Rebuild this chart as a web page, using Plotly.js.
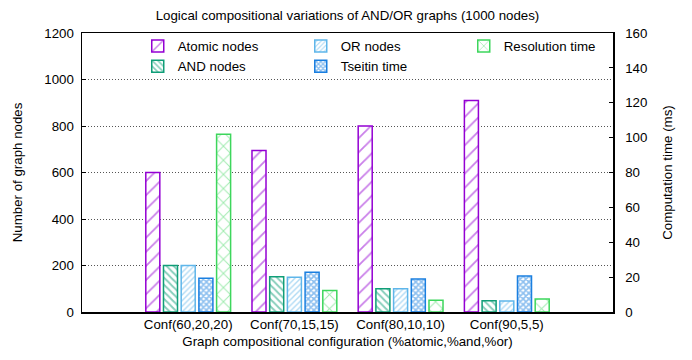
<!DOCTYPE html>
<html>
<head>
<meta charset="utf-8">
<script src="https://cdn.plot.ly/plotly-3.0.1.min.js"></script>
<style>html,body{margin:0;padding:0;background:#fff}#chart{width:692px;height:360px}</style>
</head>
<body>
<div id="chart"></div>
<script>
const categories = ["Conf(60,20,20)", "Conf(70,15,15)", "Conf(80,10,10)", "Conf(90,5,5)"];
const atomicNodes = [600, 695, 800, 910];
const andNodes = [200, 152, 100, 48];
const orNodes = [200, 150, 100, 47];
const tseitinTime = [19.3, 22.8, 18.9, 20.6];
const resolutionTime = [102, 12.4, 6.7, 7.5];
const seriesNames = ["Atomic nodes", "AND nodes", "OR nodes", "Tseitin time", "Resolution time"];
const yTickVals = [0, 200, 400, 600, 800, 1000, 1200];
const y2TickVals = [0, 20, 40, 60, 80, 100, 120, 140, 160];

const colors = ["#9400d3", "#109e78", "#5fb6ea", "#1a7fe0", "#3dd65c"];
const shapes = ["/", "\\", "/", "x", "x"];
const psize = [10, 5, 4, 4, 10];
const psolid = [0.18, 0.4, 0.35, 0.65, 0.18];
const ranks = [1, 4, 2, 5, 3];
const axesOf = ["y", "y", "y", "y2", "y2"];
const vals = [atomicNodes, andNodes, orNodes, tseitinTime, resolutionTime];

const slot = 1/6, w = 0.132;
const traces = vals.map((v, i) => ({
  type: "bar",
  name: seriesNames[i],
  x: categories,
  y: v,
  yaxis: axesOf[i],
  width: w,
  offset: -2.5*slot + i*slot + (slot - w)/2,
  legendrank: ranks[i],
  marker: {
    color: "white",
    line: {color: colors[i], width: 1.5},
    pattern: {shape: shapes[i], fgcolor: colors[i], bgcolor: "white", size: psize[i], solidity: psolid[i], fillmode: "overlay"}
  },
  hoverinfo: "x+y+name"
}));

const ff = "Liberation Sans, Arial, sans-serif";
const fs = 13.3;
const layout = {
  width: 692, height: 360,
  margin: {l: 82, r: 79, t: 33, b: 48},
  paper_bgcolor: "white", plot_bgcolor: "white",
  font: {family: ff, size: fs, color: "#000"},
  showlegend: true,
  title: {text: "Logical compositional variations of AND/OR graphs (1000 nodes)", font: {family: ff, size: fs, color: "#000"}, x: 0.5, xref: "paper", y: 0.958, yanchor: "middle"},
  xaxis: {
    type: "category", range: [-1, 4],
    showline: true, linecolor: "#000", linewidth: 1.5, mirror: true,
    ticks: "", showgrid: false, zeroline: false,
    tickfont: {family: ff, size: fs},
    title: {text: "Graph compositional configuration (%atomic,%and,%or)", font: {family: ff, size: fs}, standoff: 5}
  },
  yaxis: {
    range: [0, 1200], tickvals: yTickVals,
    showline: true, linecolor: "#000", linewidth: 1.5,
    ticks: "inside", ticklen: 4, tickcolor: "#000",
    showgrid: true, gridcolor: "#555", griddash: "1px,2px", gridwidth: 1,
    zeroline: false, ticklabelstandoff: 4,
    tickfont: {family: ff, size: fs},
    title: {text: "Number of graph nodes", font: {family: ff, size: fs}, standoff: 18}
  },
  yaxis2: {
    range: [0, 160], tickvals: y2TickVals, overlaying: "y", side: "right",
    showline: true, linecolor: "#000", linewidth: 1.5,
    ticks: "inside", ticklen: 4, tickcolor: "#000",
    showgrid: false, zeroline: false, ticklabelstandoff: 8,
    tickfont: {family: ff, size: fs},
    title: {text: "Computation time (ms)", font: {family: ff, size: fs}, standoff: 16}
  },
  legend: {
    orientation: "h", x: 0.105, xanchor: "left", y: 1.008, yanchor: "top",
    entrywidth: 118, entrywidthmode: "pixels",
    bgcolor: "rgba(0,0,0,0)", font: {family: ff, size: fs},
    traceorder: "normal", itemwidth: 30
  }
};
Plotly.newPlot("chart", traces, layout, {displayModeBar: false, staticPlot: true});
</script>
</body>
</html>
